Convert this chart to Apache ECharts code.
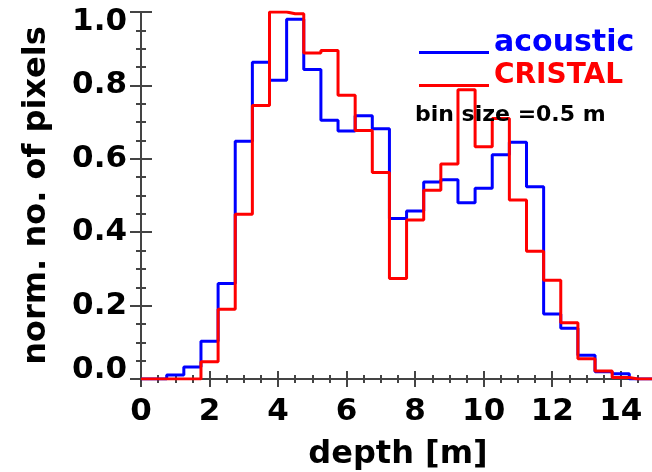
<!DOCTYPE html>
<html>
<head>
<meta charset="utf-8">
<script src="https://cdn.jsdelivr.net/npm/echarts@6/dist/echarts.min.js"></script>
<style>
  html, body { margin: 0; padding: 0; background: #fff; }
  #chart { width: 652px; height: 472px; }
</style>
</head>
<body>
<div id="chart"></div>
<script>
// Bin centres of the depth histograms (0.5 m bins)
const depthBins = [0, 0.5, 1, 1.5, 2, 2.5, 3, 3.5, 4, 4.5, 5, 5.5, 6, 6.5, 7, 7.5,
                   8, 8.5, 9, 9.5, 10, 10.5, 11, 11.5, 12, 12.5, 13, 13.5, 14, 14.5, 15];

// Normalised pixel counts per bin
const acousticValues = [0, 0, 0.011, 0.033, 0.103, 0.26, 0.648, 0.863, 0.814, 0.98,
                        0.843, 0.705, 0.676, 0.717, 0.682, 0.437, 0.458, 0.537, 0.543,
                        0.48, 0.52, 0.611, 0.645, 0.524, 0.177, 0.138, 0.065, 0.02,
                        0.014, 0, 0];
const cristalValues = [0, 0, 0, 0, 0.047, 0.19, 0.449, 0.745, 1.0, 0.995,
                       0.888, 0.895, 0.773, 0.677, 0.563, 0.274, 0.433, 0.514, 0.586,
                       0.788, 0.633, 0.71, 0.488, 0.348, 0.269, 0.153, 0.055, 0.022,
                       0.004, 0, 0];

const seriesNames = ['acoustic', 'CRISTAL'];
const seriesColors = ['#0000ff', '#ff0000'];
const noteText = 'bin size =0.5 m';

const FONT = 'DejaVu Sans';
const AXIS_COLOR = '#444';

// Legend key: a thin line sitting near the text baseline
const LEGEND_KEY = 'path://M0,0 M0,19 L70,19 L70,22 L0,22 Z';

function pairs(values) {
  return depthBins.map((x, i) => [x, values[i]]);
}

const chart = echarts.init(document.getElementById('chart'), null, { renderer: 'canvas' });

const baseAxisLine = { show: true, lineStyle: { color: AXIS_COLOR, width: 2 } };
const labelFont = { fontFamily: FONT, fontWeight: 'bold', fontSize: 31, color: '#000' };

// End labels of the y axis sit inside the axis range
function yLabel(v) {
  const s = v.toFixed(1);
  if (Math.abs(v - 1) < 1e-6) return '{hi|' + s + '}';
  if (Math.abs(v) < 1e-6) return '{lo|' + s + '}';
  return s;
}

chart.setOption({
  animation: false,
  backgroundColor: '#ffffff',
  grid: { left: 141, right: -3, top: 12, bottom: 93, containLabel: false, outerBoundsMode: 'none' },
  title: {
    text: noteText,
    left: 410,
    top: 99,
    textStyle: { fontFamily: FONT, fontWeight: 'bold', fontSize: 22, color: '#000' }
  },
  legend: {
    orient: 'vertical',
    left: 414,
    top: 23,
    itemWidth: 70,
    itemHeight: 22,
    itemGap: 4,
    icon: LEGEND_KEY,
    selectedMode: false,
    data: [
      { name: seriesNames[0], textStyle: { color: seriesColors[0], fontSize: 30 } },
      { name: seriesNames[1], textStyle: { color: seriesColors[1], fontSize: 28 } }
    ],
    textStyle: { fontFamily: FONT, fontWeight: 'bold' }
  },
  xAxis: [
    {
      type: 'value', min: 0, max: 15, interval: 2,
      name: 'depth [m]', nameLocation: 'middle', nameGap: 60,
      nameTextStyle: { fontFamily: FONT, fontWeight: 'bold', fontSize: 32, color: '#000' },
      axisLine: baseAxisLine,
      axisTick: { inside: true, length: 8, lineStyle: { color: AXIS_COLOR, width: 2 } },
      minorTick: { show: true, splitNumber: 4, length: 4, lineStyle: { color: AXIS_COLOR, width: 2 } },
      axisLabel: Object.assign({ margin: 17, showMaxLabel: false }, labelFont),
      splitLine: { show: false }
    },
    {
      type: 'value', position: 'top', min: 0, max: 15, interval: 2,
      axisLine: baseAxisLine,
      axisTick: { inside: true, length: 8, lineStyle: { color: AXIS_COLOR, width: 2 } },
      minorTick: { show: true, splitNumber: 4, length: 4, lineStyle: { color: AXIS_COLOR, width: 2 } },
      axisLabel: { show: false },
      splitLine: { show: false }
    }
  ],
  yAxis: [
    {
      type: 'value', min: 0, max: 1, interval: 0.2,
      name: 'norm. no. of pixels', nameLocation: 'middle', nameGap: 88, nameRotate: 90,
      nameTextStyle: { fontFamily: FONT, fontWeight: 'bold', fontSize: 32, color: '#000' },
      axisLine: baseAxisLine,
      axisTick: { inside: true, length: 11, lineStyle: { color: AXIS_COLOR, width: 2 } },
      minorTick: { show: true, splitNumber: 4, length: 5, lineStyle: { color: AXIS_COLOR, width: 2 } },
      axisLabel: Object.assign({
        margin: 14,
        formatter: yLabel,
        rich: {
          hi: Object.assign({ padding: [20, 0, 0, 0] }, labelFont),
          lo: Object.assign({ padding: [0, 0, 18, 0] }, labelFont)
        }
      }, labelFont),
      splitLine: { show: false }
    },
    {
      type: 'value', position: 'right', min: 0, max: 1, interval: 0.2,
      axisLine: baseAxisLine,
      axisTick: { inside: true, length: 11, lineStyle: { color: AXIS_COLOR, width: 2 } },
      minorTick: { show: true, splitNumber: 4, length: 5, lineStyle: { color: AXIS_COLOR, width: 2 } },
      axisLabel: { show: false },
      splitLine: { show: false }
    }
  ],
  series: [
    {
      name: seriesNames[0], type: 'line', step: 'middle', symbol: 'none',
      xAxisIndex: 0, yAxisIndex: 0,
      lineStyle: { color: seriesColors[0], width: 3 },
      itemStyle: { color: seriesColors[0] },
      data: pairs(acousticValues), z: 3
    },
    {
      name: seriesNames[1], type: 'line', step: 'middle', symbol: 'none',
      xAxisIndex: 0, yAxisIndex: 0,
      lineStyle: { color: seriesColors[1], width: 3 },
      itemStyle: { color: seriesColors[1] },
      data: pairs(cristalValues), z: 4
    }
  ]
});
</script>
</body>
</html>
